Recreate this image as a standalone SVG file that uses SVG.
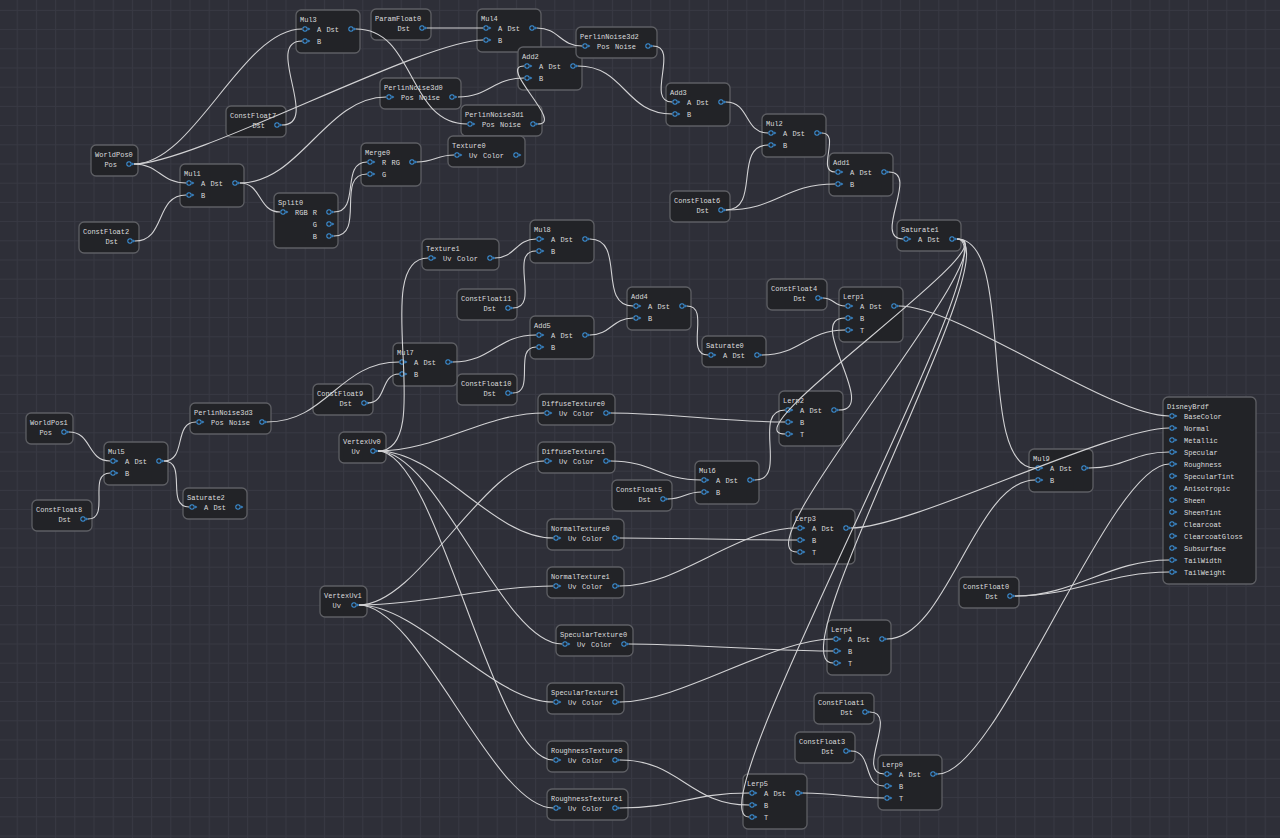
<svg xmlns="http://www.w3.org/2000/svg" xmlns:xlink="http://www.w3.org/1999/xlink" width="1280" height="838" viewBox="0 0 1280 838">
<style>
.n rect{fill:#222327;stroke:#5e5f64;stroke-width:1.3}
text{font-family:"Liberation Mono","DejaVu Sans Mono",monospace;font-size:7px;fill:#dcdcde}
.r{text-anchor:end}
#connectors path{fill:none;stroke:#d2d2d4;stroke-width:1.1}
</style>
<defs>
<pattern id="grid" width="19.2" height="19.2" patternUnits="userSpaceOnUse" x="16.7" y="9.9"><path d="M0.5,0V19.2M0,0.5H19.2" stroke="#383943" stroke-width="1" fill="none"/></pattern>
<g id="p"><circle r="2.2" fill="none" stroke="#3b8fd6" stroke-width="1.1"/><path d="M3.2,-1.4L5.4,0L3.2,1.4Z" fill="#3b8fd6"/></g>
</defs>
<rect width="1280" height="838" fill="#2e2f38"/>
<rect width="1280" height="838" fill="url(#grid)"/>

<g id="nodes">
<g id="WorldPos0" class="n" transform="translate(91,145)"><rect width="47" height="31" rx="5"/><text x="4" y="11.5">WorldPos0</text><text class="r" x="26" y="21.5">Pos</text><use href="#p" x="38" y="19"/></g>
<g id="WorldPos1" class="n" transform="translate(26,413)"><rect width="47" height="31" rx="5"/><text x="4" y="11.5">WorldPos1</text><text class="r" x="26" y="21.5">Pos</text><use href="#p" x="38" y="19"/></g>
<g id="VertexUv0" class="n" transform="translate(339,432)"><rect width="47" height="31" rx="5"/><text x="4" y="11.5">VertexUv0</text><text class="r" x="21" y="21.5">Uv</text><use href="#p" x="34" y="19"/></g>
<g id="VertexUv1" class="n" transform="translate(320,586)"><rect width="47" height="31" rx="5"/><text x="4" y="11.5">VertexUv1</text><text class="r" x="21" y="21.5">Uv</text><use href="#p" x="34" y="19"/></g>

<g id="ParamFloat0" class="n" transform="translate(371,9)"><rect width="60" height="31" rx="5"/><text x="4" y="11.5">ParamFloat0</text><text class="r" x="39" y="21.5">Dst</text><use href="#p" x="51" y="19"/></g>
<g id="ConstFloat7" class="n" transform="translate(226,106)"><rect width="60" height="31" rx="5"/><text x="4" y="11.5">ConstFloat7</text><text class="r" x="39" y="21.5">Dst</text><use href="#p" x="51" y="19"/></g>
<g id="ConstFloat2" class="n" transform="translate(79,222)"><rect width="60" height="31" rx="5"/><text x="4" y="11.5">ConstFloat2</text><text class="r" x="39" y="21.5">Dst</text><use href="#p" x="51" y="19"/></g>
<g id="ConstFloat6" class="n" transform="translate(670,191)"><rect width="60" height="31" rx="5"/><text x="4" y="11.5">ConstFloat6</text><text class="r" x="39" y="21.5">Dst</text><use href="#p" x="51" y="19"/></g>
<g id="ConstFloat11" class="n" transform="translate(457,289)"><rect width="60" height="31" rx="5"/><text x="4" y="11.5">ConstFloat11</text><text class="r" x="39" y="21.5">Dst</text><use href="#p" x="51" y="19"/></g>
<g id="ConstFloat4" class="n" transform="translate(767,279)"><rect width="60" height="31" rx="5"/><text x="4" y="11.5">ConstFloat4</text><text class="r" x="39" y="21.5">Dst</text><use href="#p" x="51" y="19"/></g>
<g id="ConstFloat10" class="n" transform="translate(457,374)"><rect width="60" height="31" rx="5"/><text x="4" y="11.5">ConstFloat10</text><text class="r" x="39" y="21.5">Dst</text><use href="#p" x="51" y="19"/></g>
<g id="ConstFloat9" class="n" transform="translate(313,384)"><rect width="60" height="31" rx="5"/><text x="4" y="11.5">ConstFloat9</text><text class="r" x="39" y="21.5">Dst</text><use href="#p" x="51" y="19"/></g>
<g id="ConstFloat5" class="n" transform="translate(612,480)"><rect width="60" height="31" rx="5"/><text x="4" y="11.5">ConstFloat5</text><text class="r" x="39" y="21.5">Dst</text><use href="#p" x="51" y="19"/></g>
<g id="ConstFloat8" class="n" transform="translate(32,500)"><rect width="60" height="31" rx="5"/><text x="4" y="11.5">ConstFloat8</text><text class="r" x="39" y="21.5">Dst</text><use href="#p" x="51" y="19"/></g>
<g id="ConstFloat1" class="n" transform="translate(814,693)"><rect width="60" height="31" rx="5"/><text x="4" y="11.5">ConstFloat1</text><text class="r" x="39" y="21.5">Dst</text><use href="#p" x="51" y="19"/></g>
<g id="ConstFloat3" class="n" transform="translate(795,732)"><rect width="60" height="31" rx="5"/><text x="4" y="11.5">ConstFloat3</text><text class="r" x="39" y="21.5">Dst</text><use href="#p" x="51" y="19"/></g>
<g id="ConstFloat0" class="n" transform="translate(959,577)"><rect width="60" height="31" rx="5"/><text x="4" y="11.5">ConstFloat0</text><text class="r" x="39" y="21.5">Dst</text><use href="#p" x="51" y="19"/></g>

<g id="Mul3" class="n" transform="translate(296,10)"><rect width="64" height="43" rx="5"/><text x="4" y="11.5">Mul3</text><use href="#p" x="9" y="19"/><text x="21" y="21.5">A</text><text class="r" x="43" y="21.5">Dst</text><use href="#p" x="55" y="19"/><use href="#p" x="9" y="31"/><text x="21" y="33.5">B</text></g>
<g id="Mul1" class="n" transform="translate(180,164)"><rect width="64" height="43" rx="5"/><text x="4" y="11.5">Mul1</text><use href="#p" x="9" y="19"/><text x="21" y="21.5">A</text><text class="r" x="43" y="21.5">Dst</text><use href="#p" x="55" y="19"/><use href="#p" x="9" y="31"/><text x="21" y="33.5">B</text></g>
<g id="Mul4" class="n" transform="translate(477,9)"><rect width="64" height="43" rx="5"/><text x="4" y="11.5">Mul4</text><use href="#p" x="9" y="19"/><text x="21" y="21.5">A</text><text class="r" x="43" y="21.5">Dst</text><use href="#p" x="55" y="19"/><use href="#p" x="9" y="31"/><text x="21" y="33.5">B</text></g>
<g id="Add2" class="n" transform="translate(518,47)"><rect width="64" height="43" rx="5"/><text x="4" y="11.5">Add2</text><use href="#p" x="9" y="19"/><text x="21" y="21.5">A</text><text class="r" x="43" y="21.5">Dst</text><use href="#p" x="55" y="19"/><use href="#p" x="9" y="31"/><text x="21" y="33.5">B</text></g>
<g id="Add3" class="n" transform="translate(666,83)"><rect width="64" height="43" rx="5"/><text x="4" y="11.5">Add3</text><use href="#p" x="9" y="19"/><text x="21" y="21.5">A</text><text class="r" x="43" y="21.5">Dst</text><use href="#p" x="55" y="19"/><use href="#p" x="9" y="31"/><text x="21" y="33.5">B</text></g>
<g id="Mul2" class="n" transform="translate(762,114)"><rect width="64" height="43" rx="5"/><text x="4" y="11.5">Mul2</text><use href="#p" x="9" y="19"/><text x="21" y="21.5">A</text><text class="r" x="43" y="21.5">Dst</text><use href="#p" x="55" y="19"/><use href="#p" x="9" y="31"/><text x="21" y="33.5">B</text></g>
<g id="Add1" class="n" transform="translate(829,153)"><rect width="64" height="43" rx="5"/><text x="4" y="11.5">Add1</text><use href="#p" x="9" y="19"/><text x="21" y="21.5">A</text><text class="r" x="43" y="21.5">Dst</text><use href="#p" x="55" y="19"/><use href="#p" x="9" y="31"/><text x="21" y="33.5">B</text></g>
<g id="Mul8" class="n" transform="translate(530,220)"><rect width="64" height="43" rx="5"/><text x="4" y="11.5">Mul8</text><use href="#p" x="9" y="19"/><text x="21" y="21.5">A</text><text class="r" x="43" y="21.5">Dst</text><use href="#p" x="55" y="19"/><use href="#p" x="9" y="31"/><text x="21" y="33.5">B</text></g>
<g id="Add4" class="n" transform="translate(627,287)"><rect width="64" height="43" rx="5"/><text x="4" y="11.5">Add4</text><use href="#p" x="9" y="19"/><text x="21" y="21.5">A</text><text class="r" x="43" y="21.5">Dst</text><use href="#p" x="55" y="19"/><use href="#p" x="9" y="31"/><text x="21" y="33.5">B</text></g>
<g id="Add5" class="n" transform="translate(530,316)"><rect width="64" height="43" rx="5"/><text x="4" y="11.5">Add5</text><use href="#p" x="9" y="19"/><text x="21" y="21.5">A</text><text class="r" x="43" y="21.5">Dst</text><use href="#p" x="55" y="19"/><use href="#p" x="9" y="31"/><text x="21" y="33.5">B</text></g>
<g id="Mul7" class="n" transform="translate(393,343)"><rect width="64" height="43" rx="5"/><text x="4" y="11.5">Mul7</text><use href="#p" x="9" y="19"/><text x="21" y="21.5">A</text><text class="r" x="43" y="21.5">Dst</text><use href="#p" x="55" y="19"/><use href="#p" x="9" y="31"/><text x="21" y="33.5">B</text></g>
<g id="Mul6" class="n" transform="translate(695,461)"><rect width="64" height="43" rx="5"/><text x="4" y="11.5">Mul6</text><use href="#p" x="9" y="19"/><text x="21" y="21.5">A</text><text class="r" x="43" y="21.5">Dst</text><use href="#p" x="55" y="19"/><use href="#p" x="9" y="31"/><text x="21" y="33.5">B</text></g>
<g id="Mul5" class="n" transform="translate(104,442)"><rect width="64" height="43" rx="5"/><text x="4" y="11.5">Mul5</text><use href="#p" x="9" y="19"/><text x="21" y="21.5">A</text><text class="r" x="43" y="21.5">Dst</text><use href="#p" x="55" y="19"/><use href="#p" x="9" y="31"/><text x="21" y="33.5">B</text></g>
<g id="Mul9" class="n" transform="translate(1029,449)"><rect width="64" height="43" rx="5"/><text x="4" y="11.5">Mul9</text><use href="#p" x="9" y="19"/><text x="21" y="21.5">A</text><text class="r" x="43" y="21.5">Dst</text><use href="#p" x="55" y="19"/><use href="#p" x="9" y="31"/><text x="21" y="33.5">B</text></g>

<g id="Saturate1" class="n" transform="translate(897,220)"><rect width="64" height="31" rx="5"/><text x="4" y="11.5">Saturate1</text><use href="#p" x="9" y="19"/><text x="21" y="21.5">A</text><text class="r" x="43" y="21.5">Dst</text><use href="#p" x="55" y="19"/></g>
<g id="Saturate0" class="n" transform="translate(702,336)"><rect width="64" height="31" rx="5"/><text x="4" y="11.5">Saturate0</text><use href="#p" x="9" y="19"/><text x="21" y="21.5">A</text><text class="r" x="43" y="21.5">Dst</text><use href="#p" x="55" y="19"/></g>
<g id="Saturate2" class="n" transform="translate(183,488)"><rect width="64" height="31" rx="5"/><text x="4" y="11.5">Saturate2</text><use href="#p" x="9" y="19"/><text x="21" y="21.5">A</text><text class="r" x="43" y="21.5">Dst</text><use href="#p" x="55" y="19"/></g>

<g id="Lerp1" class="n" transform="translate(839,287)"><rect width="64" height="55" rx="5"/><text x="4" y="11.5">Lerp1</text><use href="#p" x="9" y="19"/><text x="21" y="21.5">A</text><text class="r" x="43" y="21.5">Dst</text><use href="#p" x="55" y="19"/><use href="#p" x="9" y="31"/><text x="21" y="33.5">B</text><use href="#p" x="9" y="43"/><text x="21" y="45.5">T</text></g>
<g id="Lerp2" class="n" transform="translate(779,391)"><rect width="64" height="55" rx="5"/><text x="4" y="11.5">Lerp2</text><use href="#p" x="9" y="19"/><text x="21" y="21.5">A</text><text class="r" x="43" y="21.5">Dst</text><use href="#p" x="55" y="19"/><use href="#p" x="9" y="31"/><text x="21" y="33.5">B</text><use href="#p" x="9" y="43"/><text x="21" y="45.5">T</text></g>
<g id="Lerp3" class="n" transform="translate(791,509)"><rect width="64" height="55" rx="5"/><text x="4" y="11.5">Lerp3</text><use href="#p" x="9" y="19"/><text x="21" y="21.5">A</text><text class="r" x="43" y="21.5">Dst</text><use href="#p" x="55" y="19"/><use href="#p" x="9" y="31"/><text x="21" y="33.5">B</text><use href="#p" x="9" y="43"/><text x="21" y="45.5">T</text></g>
<g id="Lerp4" class="n" transform="translate(827,620)"><rect width="64" height="55" rx="5"/><text x="4" y="11.5">Lerp4</text><use href="#p" x="9" y="19"/><text x="21" y="21.5">A</text><text class="r" x="43" y="21.5">Dst</text><use href="#p" x="55" y="19"/><use href="#p" x="9" y="31"/><text x="21" y="33.5">B</text><use href="#p" x="9" y="43"/><text x="21" y="45.5">T</text></g>
<g id="Lerp5" class="n" transform="translate(743,774)"><rect width="64" height="55" rx="5"/><text x="4" y="11.5">Lerp5</text><use href="#p" x="9" y="19"/><text x="21" y="21.5">A</text><text class="r" x="43" y="21.5">Dst</text><use href="#p" x="55" y="19"/><use href="#p" x="9" y="31"/><text x="21" y="33.5">B</text><use href="#p" x="9" y="43"/><text x="21" y="45.5">T</text></g>
<g id="Lerp0" class="n" transform="translate(878,755)"><rect width="64" height="55" rx="5"/><text x="4" y="11.5">Lerp0</text><use href="#p" x="9" y="19"/><text x="21" y="21.5">A</text><text class="r" x="43" y="21.5">Dst</text><use href="#p" x="55" y="19"/><use href="#p" x="9" y="31"/><text x="21" y="33.5">B</text><use href="#p" x="9" y="43"/><text x="21" y="45.5">T</text></g>

<g id="PerlinNoise3d0" class="n" transform="translate(380,78)"><rect width="81" height="31" rx="5"/><text x="4" y="11.5">PerlinNoise3d0</text><use href="#p" x="9" y="19"/><text x="21" y="21.5">Pos</text><text class="r" x="60" y="21.5">Noise</text><use href="#p" x="72" y="19"/></g>
<g id="PerlinNoise3d2" class="n" transform="translate(576,27)"><rect width="81" height="31" rx="5"/><text x="4" y="11.5">PerlinNoise3d2</text><use href="#p" x="9" y="19"/><text x="21" y="21.5">Pos</text><text class="r" x="60" y="21.5">Noise</text><use href="#p" x="72" y="19"/></g>
<g id="PerlinNoise3d1" class="n" transform="translate(461,105)"><rect width="81" height="31" rx="5"/><text x="4" y="11.5">PerlinNoise3d1</text><use href="#p" x="9" y="19"/><text x="21" y="21.5">Pos</text><text class="r" x="60" y="21.5">Noise</text><use href="#p" x="72" y="19"/></g>
<g id="PerlinNoise3d3" class="n" transform="translate(190,403)"><rect width="81" height="31" rx="5"/><text x="4" y="11.5">PerlinNoise3d3</text><use href="#p" x="9" y="19"/><text x="21" y="21.5">Pos</text><text class="r" x="60" y="21.5">Noise</text><use href="#p" x="72" y="19"/></g>

<g id="Texture0" class="n" transform="translate(448,136)"><rect width="77" height="31" rx="5"/><text x="4" y="11.5">Texture0</text><use href="#p" x="9" y="19"/><text x="21" y="21.5">Uv</text><text class="r" x="56" y="21.5">Color</text><use href="#p" x="68" y="19"/></g>
<g id="Texture1" class="n" transform="translate(422,239)"><rect width="77" height="31" rx="5"/><text x="4" y="11.5">Texture1</text><use href="#p" x="9" y="19"/><text x="21" y="21.5">Uv</text><text class="r" x="56" y="21.5">Color</text><use href="#p" x="68" y="19"/></g>
<g id="DiffuseTexture0" class="n" transform="translate(538,394)"><rect width="77" height="31" rx="5"/><text x="4" y="11.5">DiffuseTexture0</text><use href="#p" x="9" y="19"/><text x="21" y="21.5">Uv</text><text class="r" x="56" y="21.5">Color</text><use href="#p" x="68" y="19"/></g>
<g id="DiffuseTexture1" class="n" transform="translate(538,442)"><rect width="77" height="31" rx="5"/><text x="4" y="11.5">DiffuseTexture1</text><use href="#p" x="9" y="19"/><text x="21" y="21.5">Uv</text><text class="r" x="56" y="21.5">Color</text><use href="#p" x="68" y="19"/></g>
<g id="NormalTexture0" class="n" transform="translate(547,519)"><rect width="77" height="31" rx="5"/><text x="4" y="11.5">NormalTexture0</text><use href="#p" x="9" y="19"/><text x="21" y="21.5">Uv</text><text class="r" x="56" y="21.5">Color</text><use href="#p" x="68" y="19"/></g>
<g id="NormalTexture1" class="n" transform="translate(547,567)"><rect width="77" height="31" rx="5"/><text x="4" y="11.5">NormalTexture1</text><use href="#p" x="9" y="19"/><text x="21" y="21.5">Uv</text><text class="r" x="56" y="21.5">Color</text><use href="#p" x="68" y="19"/></g>
<g id="SpecularTexture0" class="n" transform="translate(556,625)"><rect width="77" height="31" rx="5"/><text x="4" y="11.5">SpecularTexture0</text><use href="#p" x="9" y="19"/><text x="21" y="21.5">Uv</text><text class="r" x="56" y="21.5">Color</text><use href="#p" x="68" y="19"/></g>
<g id="SpecularTexture1" class="n" transform="translate(547,683)"><rect width="77" height="31" rx="5"/><text x="4" y="11.5">SpecularTexture1</text><use href="#p" x="9" y="19"/><text x="21" y="21.5">Uv</text><text class="r" x="56" y="21.5">Color</text><use href="#p" x="68" y="19"/></g>
<g id="RoughnessTexture0" class="n" transform="translate(547,741)"><rect width="81" height="31" rx="5"/><text x="4" y="11.5">RoughnessTexture0</text><use href="#p" x="9" y="19"/><text x="21" y="21.5">Uv</text><text class="r" x="56" y="21.5">Color</text><use href="#p" x="68" y="19"/></g>
<g id="RoughnessTexture1" class="n" transform="translate(547,789)"><rect width="81" height="31" rx="5"/><text x="4" y="11.5">RoughnessTexture1</text><use href="#p" x="9" y="19"/><text x="21" y="21.5">Uv</text><text class="r" x="56" y="21.5">Color</text><use href="#p" x="68" y="19"/></g>

<g id="Split0" class="n" transform="translate(274,193)"><rect width="64" height="55" rx="5"/><text x="4" y="11.5">Split0</text><use href="#p" x="9" y="19"/><text x="21" y="21.5">RGB</text><text class="r" x="43" y="21.5">R</text><use href="#p" x="55" y="19"/><text class="r" x="43" y="33.5">G</text><use href="#p" x="55" y="31"/><text class="r" x="43" y="45.5">B</text><use href="#p" x="55" y="43"/></g>
<g id="Merge0" class="n" transform="translate(361,143)"><rect width="60" height="43" rx="5"/><text x="4" y="11.5">Merge0</text><use href="#p" x="9" y="19"/><text x="21" y="21.5">R</text><text class="r" x="39" y="21.5">RG</text><use href="#p" x="51" y="19"/><use href="#p" x="9" y="31"/><text x="21" y="33.5">G</text></g>

<g id="DisneyBrdf" class="n" transform="translate(1163,397)"><rect width="93" height="187" rx="5"/><text x="4" y="11.5">DisneyBrdf</text>
<use href="#p" x="9" y="19"/><text x="21" y="21.5">BaseColor</text>
<use href="#p" x="9" y="31"/><text x="21" y="33.5">Normal</text>
<use href="#p" x="9" y="43"/><text x="21" y="45.5">Metallic</text>
<use href="#p" x="9" y="55"/><text x="21" y="57.5">Specular</text>
<use href="#p" x="9" y="67"/><text x="21" y="69.5">Roughness</text>
<use href="#p" x="9" y="79"/><text x="21" y="81.5">SpecularTint</text>
<use href="#p" x="9" y="91"/><text x="21" y="93.5">Anisotropic</text>
<use href="#p" x="9" y="103"/><text x="21" y="105.5">Sheen</text>
<use href="#p" x="9" y="115"/><text x="21" y="117.5">SheenTint</text>
<use href="#p" x="9" y="127"/><text x="21" y="129.5">Clearcoat</text>
<use href="#p" x="9" y="139"/><text x="21" y="141.5">ClearcoatGloss</text>
<use href="#p" x="9" y="151"/><text x="21" y="153.5">Subsurface</text>
<use href="#p" x="9" y="163"/><text x="21" y="165.5">TailWidth</text>
<use href="#p" x="9" y="175"/><text x="21" y="177.5">TailWeight</text></g>
</g>

<g id="connectors">
<path d="M134,164C194,164 242,29 302,29"/>
<path d="M134,164C159,164 161,183 186,183"/>
<path d="M134,164C194,164 423,40 483,40"/>
<path d="M282,125C321,125 263,41 302,41"/>
<path d="M427,28C452,28 458,28 483,28"/>
<path d="M356,29C416,29 407,124 467,124"/>
<path d="M240,183C300,183 326,97 386,97"/>
<path d="M240,183C262,183 258,212 280,212"/>
<path d="M135,241C166,241 155,195 186,195"/>
<path d="M334,212C361,212 340,162 367,162"/>
<path d="M334,236C366,236 335,174 367,174"/>
<path d="M417,162C434,162 437,155 454,155"/>
<path d="M537,28C559,28 560,46 582,46"/>
<path d="M458,97C489,97 493,78 524,78"/>
<path d="M538,124C565,124 497,66 524,66"/>
<path d="M653,46C680,46 645,102 672,102"/>
<path d="M578,66C625,66 625,114 672,114"/>
<path d="M726,102C750,102 744,133 768,133"/>
<path d="M726,210C761,210 733,145 768,145"/>
<path d="M726,210C777,210 784,184 835,184"/>
<path d="M822,133C841,133 816,172 835,172"/>
<path d="M889,172C920,172 872,239 903,239"/>
<path d="M495,258C515,258 516,239 536,239"/>
<path d="M513,308C541,308 508,251 536,251"/>
<path d="M590,239C626,239 597,306 633,306"/>
<path d="M590,335C611,335 612,318 633,318"/>
<path d="M453,362C492,362 497,335 536,335"/>
<path d="M513,393C536,393 513,347 536,347"/>
<path d="M368,403C387,403 380,374 399,374"/>
<path d="M267,422C327,422 339,362 399,362"/>
<path d="M378,451C438,451 368,258 428,258"/>
<path d="M687,306C711,306 684,355 708,355"/>
<path d="M762,355C801,355 806,330 845,330"/>
<path d="M823,298C834,298 834,306 845,306"/>
<path d="M839,410C880,410 804,318 845,318"/>
<path d="M899,306C959,306 1109,416 1169,416"/>
<path d="M957,239C1017,239 975,468 1035,468"/>
<path d="M957,239C1017,239 725,434 785,434"/>
<path d="M957,239C1017,239 737,552 797,552"/>
<path d="M957,239C1017,239 773,663 833,663"/>
<path d="M957,239C1017,239 689,817 749,817"/>
<path d="M611,413C671,413 725,422 785,422"/>
<path d="M755,480C789,480 751,410 785,410"/>
<path d="M611,461C653,461 659,480 701,480"/>
<path d="M668,499C683,499 686,492 701,492"/>
<path d="M620,538C680,538 737,540 797,540"/>
<path d="M620,586C680,586 737,528 797,528"/>
<path d="M851,528C911,528 1109,428 1169,428"/>
<path d="M620,702C680,702 773,639 833,639"/>
<path d="M629,644C689,644 773,651 833,651"/>
<path d="M887,639C947,639 975,480 1035,480"/>
<path d="M1089,468C1125,468 1133,452 1169,452"/>
<path d="M620,808C678,808 691,793 749,793"/>
<path d="M620,760C680,760 689,805 749,805"/>
<path d="M803,793C840,793 848,798 884,798"/>
<path d="M870,712C899,712 855,774 884,774"/>
<path d="M851,751C873,751 862,786 884,786"/>
<path d="M938,774C998,774 1109,464 1169,464"/>
<path d="M1015,596C1075,596 1109,560 1169,560"/>
<path d="M1015,596C1075,596 1109,572 1169,572"/>
<path d="M69,432C92,432 87,461 110,461"/>
<path d="M88,519C111,519 87,473 110,473"/>
<path d="M164,461C187,461 173,422 196,422"/>
<path d="M164,461C188,461 165,507 189,507"/>
<path d="M378,451C438,451 484,413 544,413"/>
<path d="M378,451C438,451 493,538 553,538"/>
<path d="M378,451C438,451 502,644 562,644"/>
<path d="M378,451C438,451 493,760 553,760"/>
<path d="M359,605C419,605 484,461 544,461"/>
<path d="M359,605C419,605 493,586 553,586"/>
<path d="M359,605C419,605 493,702 553,702"/>
<path d="M359,605C419,605 493,808 553,808"/>
</g>
</svg>
